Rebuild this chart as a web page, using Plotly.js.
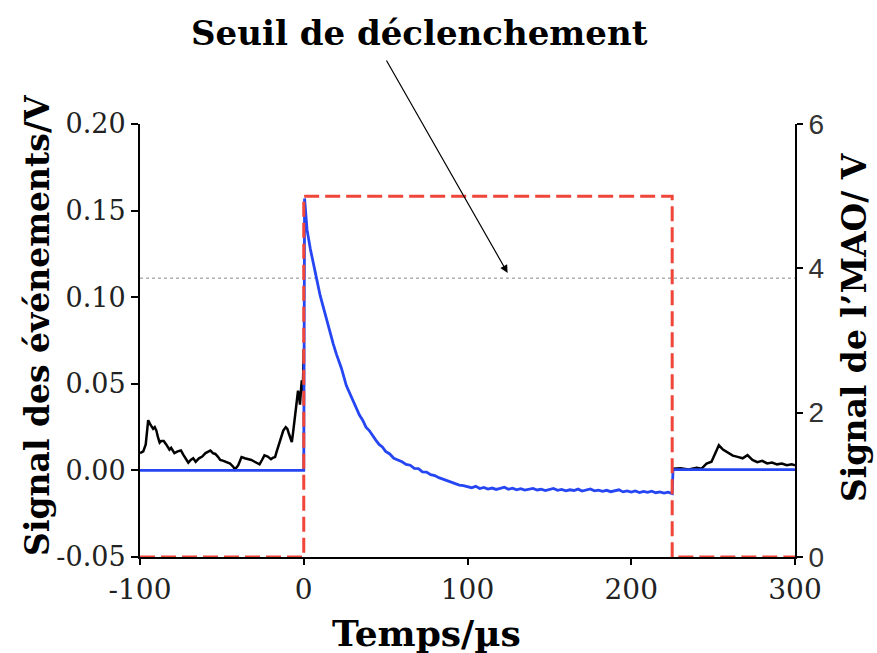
<!DOCTYPE html>
<html>
<head>
<meta charset="utf-8">
<script src="https://cdn.plot.ly/plotly-3.0.1.min.js"></script>
<style>html,body{margin:0;padding:0;background:#fff;}#chart{width:877px;height:653px;}</style>
</head>
<body>
<div id="chart"></div>
<script>
// ---- data ----
var blackTimePre = [-100,-98,-96.5,-95,-94,-93,-92,-91,-90,-89,-88,-87,-85.5,-84,-82,-81,-79,-77,-75,-73.5,-72,-70.5,-69,-67.5,-66,-64,-62,-60,-58,-57,-55.5,-54,-52.5,-51,-49,-47,-45,-43,-42,-40,-38,-36,-34,-32,-30,-28,-27,-25.5,-24,-22,-20,-19,-17.5,-16.5,-15.5,-14,-12.5,-11,-10,-9,-8,-7.3,-6.5,-5.3,-4.5,-3.5,-3,-2.3,-1.8,-1.2,-0.6,-0.3,0];
var blackValuesPre = [0.010,0.011,0.015,0.029,0.027,0.025,0.024,0.025,0.023,0.019,0.016,0.017,0.017,0.015,0.012,0.013,0.010,0.011,0.0115,0.009,0.007,0.0045,0.006,0.007,0.005,0.007,0.008,0.010,0.011,0.0115,0.010,0.0095,0.008,0.006,0.0055,0.0048,0.004,0.002,0.0005,0.003,0.0077,0.007,0.0067,0.006,0.005,0.004,0.0035,0.006,0.0087,0.008,0.0065,0.0072,0.0077,0.011,0.0144,0.018,0.023,0.025,0.024,0.021,0.018,0.0163,0.022,0.033,0.040,0.046,0.044,0.038,0.045,0.052,0.045,0.060,0.070];
var blackTimePost = [225.5,230,235,240,243,246,249,252,253.5,256,259,262,265,268,271,274,277,280,283,286,289,292,295,298,300];
var blackValuesPost = [0.001,0.0012,0.0005,0.0015,0.001,0.004,0.005,0.012,0.0145,0.012,0.010,0.0085,0.0078,0.007,0.0088,0.006,0.0048,0.0055,0.004,0.0045,0.0035,0.004,0.003,0.0035,0.003];

var blueTime = [-100,0,0.5,2,4,6,8,10,12,14,16,18,20,23,26,28,30,32,34,36,38,40,42,44,46,48,50,52.5,55,57.5,60,62.5,65,67.5,70,72.5,75,77.5,80,82.5,85,87.5,90,92.5,95,97.5,100,
  102.5,105,107.5,110,112.5,115,117.5,120,122.5,125,127.5,130,132.5,135,137.5,140,142.5,145,147.5,150,152.5,155,157.5,160,162.5,165,167.5,170,172.5,175,177.5,180,182.5,185,187.5,190,192.5,195,197.5,200,202.5,205,207.5,210,212.5,215,217.5,220,222.5,225,225.5,300];
var blueValues = [0,0,0.157,0.139,0.128,0.118,0.110,0.101,0.094,0.086,0.079,0.073,0.067,0.059,0.049,0.045,0.040,0.037,0.032,0.029,0.025,0.023,0.020,0.0175,0.015,0.0135,0.011,0.0095,0.007,0.0062,0.005,0.0035,0.003,0.0012,0.001,-0.0008,-0.001,-0.0025,-0.003,-0.0042,-0.005,-0.0058,-0.007,-0.0075,-0.0085,-0.0088,-0.0095,
  -0.0100,-0.0092,-0.0105,-0.0098,-0.0108,-0.0102,-0.0110,-0.0104,-0.0097,-0.0109,-0.0103,-0.0112,-0.0106,-0.0114,-0.0108,-0.0104,-0.0113,-0.0109,-0.0117,-0.0111,-0.0104,-0.0115,-0.0110,-0.0118,-0.0112,-0.0116,-0.0108,-0.0119,-0.0113,-0.0107,-0.0118,-0.0114,-0.0121,-0.0115,-0.0123,-0.0117,-0.0112,-0.0124,-0.0118,-0.0125,-0.0119,-0.0128,-0.0121,-0.0127,-0.0120,-0.0129,-0.0124,-0.0131,-0.0126,-0.0134,0.0005,0.0005];

var gateTime = [-100,0,0,225,225,300];
var gateValues = [0,0,5,5,0,0];

var thresholdTime = [-100,300];
var thresholdValues = [0.111,0.111];

var leftTickVals = [-0.05,0,0.05,0.10,0.15,0.20];
var leftTickText = ['-0.05','0.00','0.05','0.10','0.15','0.20'];
var rightTickVals = [0,2,4,6];
var bottomTickVals = [-100,0,100,200,300];
var bottomTickText = ['-100','0','100','200','300'];

var serif = 'DejaVu Serif, Liberation Serif, serif';

var traces = [
  {x: thresholdTime, y: thresholdValues, mode: 'lines', line: {color: '#8a8a8a', width: 1, dash: 'dot'}, hoverinfo: 'skip'},
  {x: gateTime, y: gateValues, yaxis: 'y2', mode: 'lines', cliponaxis: false, line: {color: '#f0463a', width: 3, dash: '15px,6px'}},
  {x: blackTimePre, y: blackValuesPre, mode: 'lines', line: {color: '#000000', width: 2.5}},
  {x: blackTimePost, y: blackValuesPost, mode: 'lines', line: {color: '#000000', width: 2.5}},
  {x: blueTime, y: blueValues, mode: 'lines', line: {color: '#2546f2', width: 2.8}}
];

var layout = {
  width: 877, height: 653,
  margin: {l: 140, r: 82, t: 124, b: 96},
  paper_bgcolor: '#ffffff', plot_bgcolor: '#ffffff',
  showlegend: false,
  title: {text: '<b>Seuil de déclenchement</b>', font: {family: serif, size: 34, color: '#000'},
          xref: 'container', yref: 'container', x: 0.478, y: 0.95, xanchor: 'center', yanchor: 'middle'},
  xaxis: {range: [-100, 300], tickvals: bottomTickVals, ticktext: bottomTickText,
          showline: true, linecolor: '#000', linewidth: 2, ticks: 'outside', ticklen: 6, tickwidth: 2, tickcolor: '#000',
          showgrid: false, zeroline: false, layer: 'below traces',
          tickfont: {family: serif, size: 28, color: '#222'}},
  yaxis: {range: [-0.05, 0.20], tickvals: leftTickVals, ticktext: leftTickText,
          showline: true, linecolor: '#000', linewidth: 2, ticks: 'outside', ticklen: 7, tickwidth: 2, tickcolor: '#000',
          showgrid: false, zeroline: false, layer: 'below traces',
          tickfont: {family: serif, size: 27, color: '#222'}},
  yaxis2: {range: [0, 6], tickvals: rightTickVals, overlaying: 'y', side: 'right',
          showline: true, linecolor: '#000', linewidth: 2, ticks: 'outside', ticklen: 6, tickwidth: 2, tickcolor: '#000',
          showgrid: false, zeroline: false, layer: 'below traces',
          tickfont: {family: 'Liberation Sans, Arial, sans-serif', size: 28, color: '#333'}},
  annotations: [
    {x: 124.5, y: 0.114, xref: 'x', yref: 'y', text: '', showarrow: true,
     ax: -122, ay: -214, axref: 'pixel', ayref: 'pixel',
     arrowhead: 2, arrowsize: 1.3, arrowwidth: 1.2, arrowcolor: '#000'},
    {text: '<b>Temps/µs</b>', xref: 'paper', yref: 'paper', x: 0.438, y: -0.1755, xanchor: 'center', yanchor: 'middle',
     showarrow: false, font: {family: serif, size: 36, color: '#000'}},
    {text: '<b>Signal des événements/V</b>', xref: 'paper', yref: 'paper', x: -0.1557, y: 0.536, xanchor: 'center', yanchor: 'middle',
     textangle: -90, showarrow: false, font: {family: serif, size: 33, color: '#000'}},
    {text: '<b>Signal de l’MAO/ V</b>', xref: 'paper', yref: 'paper', x: 1.0900, y: 0.531, xanchor: 'center', yanchor: 'middle',
     textangle: -90, showarrow: false, font: {family: serif, size: 33, color: '#000'}}
  ]
};

Plotly.newPlot('chart', traces, layout, {displayModeBar: false, staticPlot: true});
</script>
</body>
</html>
